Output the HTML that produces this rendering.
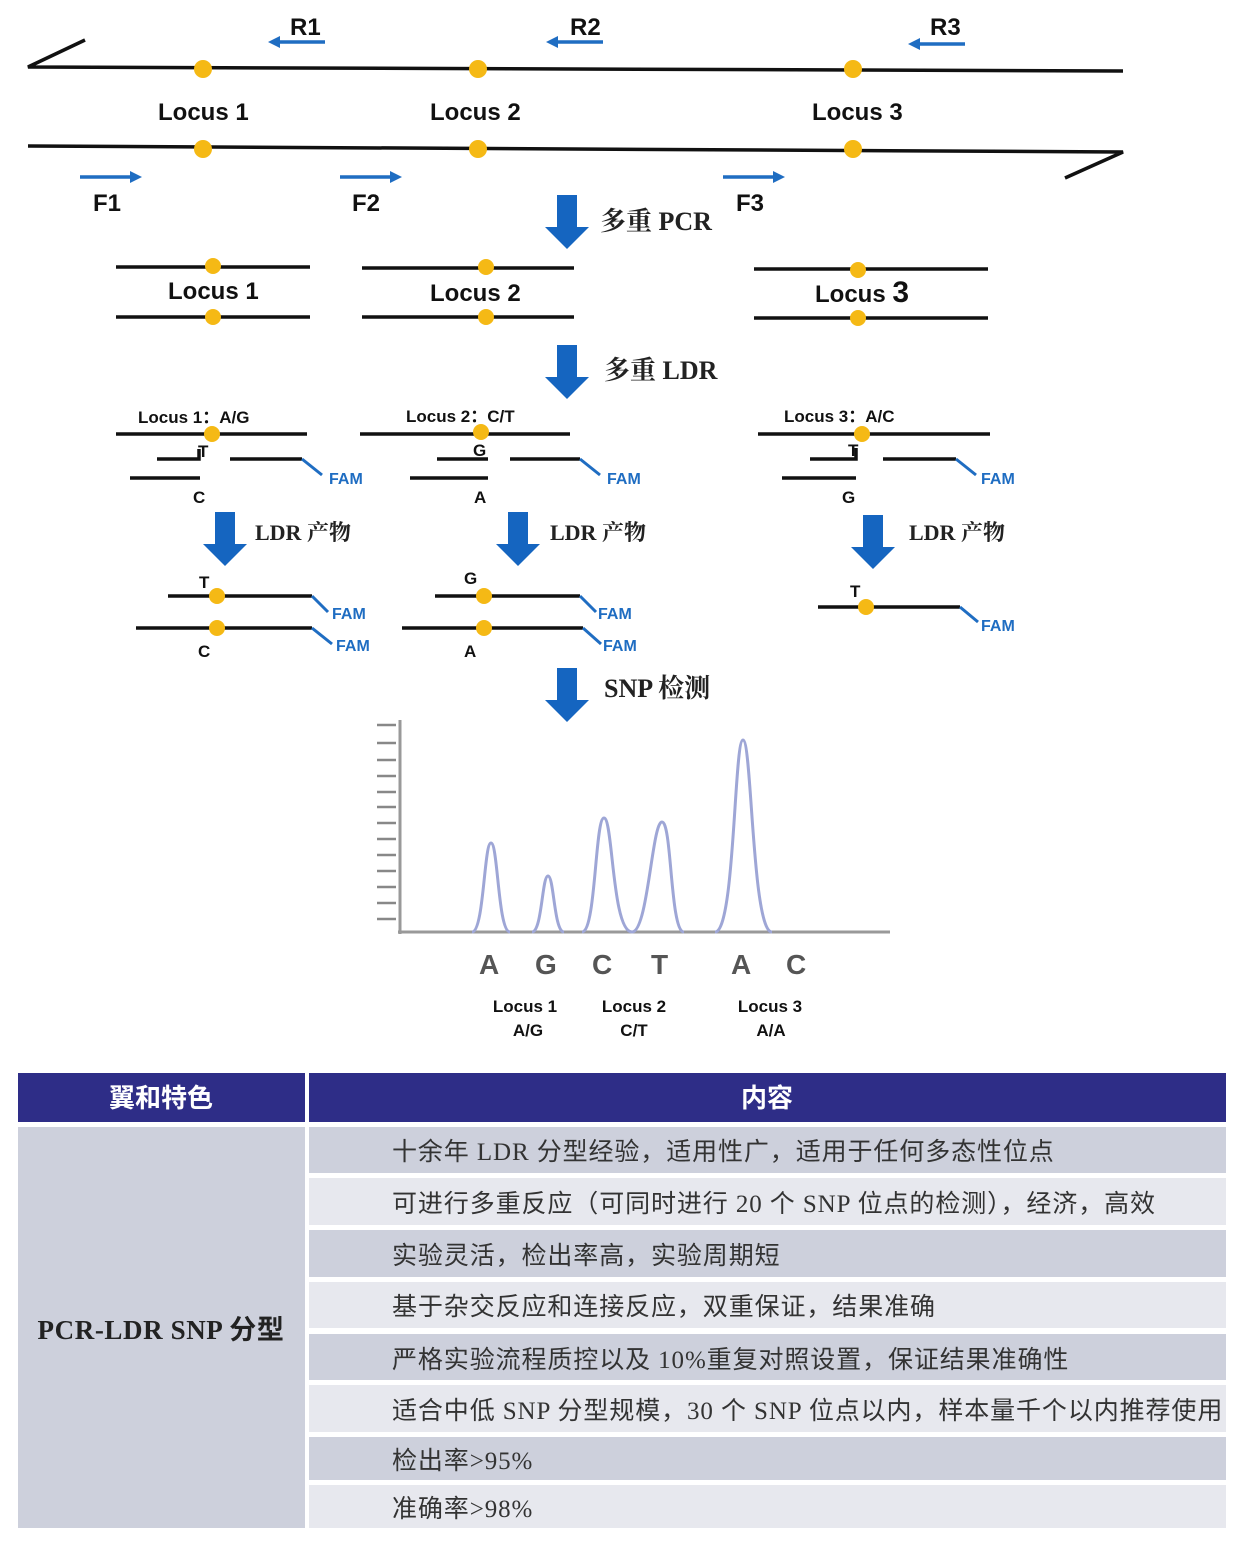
<!DOCTYPE html>
<html><head><meta charset="utf-8"><style>
body{margin:0;background:#fff;width:1246px;height:1541px;overflow:hidden;position:relative;font-family:"Liberation Sans","Noto Sans CJK SC",sans-serif}
svg{position:absolute;left:0;top:0}
.t{position:absolute;font-family:"Liberation Serif","Noto Sans CJK SC",serif;font-size:25px;letter-spacing:0.9px;color:#333;white-space:nowrap}
</style></head><body>
<svg width="1246" height="1541" viewBox="0 0 1246 1541">
<defs>
<marker id="ah" markerWidth="12" markerHeight="12" refX="8" refY="6" orient="auto" markerUnits="userSpaceOnUse"><path d="M0,0 L12,6 L0,12 z" fill="#1f6dc2"/></marker>
<g id="bigarr"><path d="M-10,0 H10 V32 H22 L0,54 L-22,32 H-10 Z" fill="#1565c0"/></g>
</defs>
<g stroke="#111" stroke-width="3.5" fill="none">
<path d="M85,40 L28,67 L1123,71"/>
<path d="M28,146 L1123,152 L1065,178"/>
</g>
<g fill="#f5b915">
<circle cx="203" cy="69" r="9"/><circle cx="478" cy="69" r="9"/><circle cx="853" cy="69" r="9"/>
<circle cx="203" cy="149" r="9"/><circle cx="478" cy="149" r="9"/><circle cx="853" cy="149" r="9"/>
</g>
<g stroke="#1f6dc2" stroke-width="3.5" marker-end="url(#ah)">
<line x1="325" y1="42" x2="272" y2="42"/><line x1="603" y1="42" x2="550" y2="42"/><line x1="965" y1="44" x2="912" y2="44"/>
<line x1="80" y1="177" x2="138" y2="177"/><line x1="340" y1="177" x2="398" y2="177"/><line x1="723" y1="177" x2="781" y2="177"/>
</g>
<g font-family="Liberation Sans,sans-serif" font-weight="bold" font-size="24" fill="#111">
<text x="290" y="35">R1</text><text x="570" y="35">R2</text><text x="930" y="35">R3</text>
<text x="158" y="120">Locus 1</text><text x="430" y="120">Locus 2</text><text x="812" y="120">Locus 3</text>
<text x="93" y="211">F1</text><text x="352" y="211">F2</text><text x="736" y="211">F3</text>
<text x="168" y="299">Locus 1</text><text x="430" y="301">Locus 2</text><text x="815" y="302">Locus <tspan font-size="30">3</tspan></text>
</g>
<g stroke="#111" stroke-width="3.5">
<line x1="116" y1="267" x2="310" y2="267"/><line x1="116" y1="317" x2="310" y2="317"/>
<line x1="362" y1="268" x2="574" y2="268"/><line x1="362" y1="317" x2="574" y2="317"/>
<line x1="754" y1="269" x2="988" y2="269"/><line x1="754" y1="318" x2="988" y2="318"/>
</g>
<g fill="#f5b915">
<circle cx="213" cy="266" r="8"/><circle cx="213" cy="317" r="8"/>
<circle cx="486" cy="267" r="8"/><circle cx="486" cy="317" r="8"/>
<circle cx="858" cy="270" r="8"/><circle cx="858" cy="318" r="8"/>
</g>
<use href="#bigarr" x="567" y="195"/>
<use href="#bigarr" x="567" y="345"/>
<use href="#bigarr" x="225" y="512"/>
<use href="#bigarr" x="518" y="512"/>
<use href="#bigarr" x="873" y="515"/>
<use href="#bigarr" x="567" y="668"/>
<g font-family="Liberation Serif,Noto Serif CJK SC,serif" font-weight="bold" font-size="26" fill="#222">
<text x="600" y="230">多重 PCR</text>
<text x="604" y="379">多重 LDR</text>
<text x="604" y="697">SNP 检测</text>
</g>
<g font-family="Liberation Serif,Noto Serif CJK SC,serif" font-weight="bold" font-size="22" fill="#222">
<text x="255" y="540">LDR 产物</text><text x="550" y="540">LDR 产物</text><text x="909" y="540">LDR 产物</text>
</g>
<g stroke="#111" stroke-width="3.5" fill="none">
<line x1="116" y1="434" x2="307" y2="434"/>
<path d="M157,459 H199 V449"/><line x1="230" y1="459" x2="302" y2="459"/>
<line x1="130" y1="478" x2="200" y2="478"/>
<line x1="360" y1="434" x2="570" y2="434"/>
<line x1="437" y1="459" x2="488" y2="459"/><line x1="510" y1="459" x2="580" y2="459"/>
<line x1="410" y1="478" x2="488" y2="478"/>
<line x1="758" y1="434" x2="990" y2="434"/>
<path d="M810,459 H856 V448"/><line x1="883" y1="459" x2="956" y2="459"/>
<line x1="782" y1="478" x2="856" y2="478"/>
<line x1="168" y1="596" x2="312" y2="596"/><line x1="136" y1="628" x2="312" y2="628"/>
<line x1="435" y1="596" x2="580" y2="596"/><line x1="402" y1="628" x2="583" y2="628"/>
<line x1="818" y1="607" x2="960" y2="607"/>
</g>
<g stroke="#1f6dc2" stroke-width="3">
<line x1="302" y1="459" x2="322" y2="475"/><line x1="580" y1="459" x2="600" y2="475"/><line x1="956" y1="459" x2="976" y2="475"/>
<line x1="312" y1="596" x2="328" y2="612"/><line x1="312" y1="628" x2="332" y2="644"/>
<line x1="580" y1="596" x2="596" y2="612"/><line x1="583" y1="628" x2="601" y2="644"/>
<line x1="960" y1="607" x2="978" y2="622"/>
</g>
<g fill="#f5b915">
<circle cx="212" cy="434" r="8"/><circle cx="481" cy="432" r="8"/><circle cx="862" cy="434" r="8"/>
<circle cx="217" cy="596" r="8"/><circle cx="217" cy="628" r="8"/>
<circle cx="484" cy="596" r="8"/><circle cx="484" cy="628" r="8"/>
<circle cx="866" cy="607" r="8"/>
</g>
<g font-family="Liberation Sans,sans-serif" font-weight="bold" font-size="16" fill="#1f6dc2">
<text x="329" y="484">FAM</text><text x="607" y="484">FAM</text><text x="981" y="484">FAM</text>
<text x="332" y="619">FAM</text><text x="336" y="651">FAM</text>
<text x="598" y="619">FAM</text><text x="603" y="651">FAM</text>
<text x="981" y="631">FAM</text>
</g>
<g font-family="Liberation Sans,sans-serif" font-weight="bold" font-size="17" fill="#111">
<text x="138" y="423">Locus 1：A/G</text><text x="406" y="422">Locus 2：C/T</text><text x="784" y="422">Locus 3：A/C</text>
<text x="198" y="457">T</text><text x="473" y="456">G</text><text x="848" y="456">T</text>
<text x="193" y="503">C</text><text x="474" y="503">A</text><text x="842" y="503">G</text>
<text x="199" y="588">T</text><text x="464" y="584">G</text><text x="850" y="597">T</text>
<text x="198" y="657">C</text><text x="464" y="657">A</text>
</g>
<g stroke="#999" stroke-width="3">
<line x1="400" y1="720" x2="400" y2="934"/><line x1="398" y1="932" x2="890" y2="932"/>
</g>
<g stroke="#888" stroke-width="2.5">
<line x1="377" y1="725" x2="396" y2="725"/><line x1="377" y1="743" x2="396" y2="743"/><line x1="377" y1="760" x2="396" y2="760"/><line x1="377" y1="776" x2="396" y2="776"/><line x1="377" y1="792" x2="396" y2="792"/><line x1="377" y1="807" x2="396" y2="807"/><line x1="377" y1="823" x2="396" y2="823"/><line x1="377" y1="839" x2="396" y2="839"/><line x1="377" y1="855" x2="396" y2="855"/><line x1="377" y1="871" x2="396" y2="871"/><line x1="377" y1="887" x2="396" y2="887"/><line x1="377" y1="903" x2="396" y2="903"/><line x1="377" y1="919" x2="396" y2="919"/>
</g>
<g stroke="#9ea6d6" stroke-width="3" fill="none">
<path d="M472,932 C484,932 484,843 491,843 C498,843 498,932 510,932"/>
<path d="M532,932 C542,932 542,876 548,876 C554,876 554,932 564,932"/>
<path d="M582,932 C596,932 595,818 604,818 C613,818 612,932 632,932 C648,932 652,822 662,822 C672,822 670,932 684,932"/>
<path d="M715,932 C735,932 734,740 743,740 C752,740 752,932 772,932"/>
</g>
<g font-family="Liberation Sans,sans-serif" font-weight="bold" font-size="28" fill="#555">
<text x="479" y="974">A</text><text x="535" y="974">G</text><text x="592" y="974">C</text><text x="651" y="974">T</text><text x="731" y="974">A</text><text x="786" y="974">C</text>
</g>
<g font-family="Liberation Sans,sans-serif" font-weight="bold" font-size="17" fill="#111" text-anchor="middle">
<text x="525" y="1012">Locus 1</text><text x="528" y="1036">A/G</text>
<text x="634" y="1012">Locus 2</text><text x="634" y="1036">C/T</text>
<text x="770" y="1012">Locus 3</text><text x="771" y="1036">A/A</text>
</g>
<rect x="18" y="1073" width="287" height="49" fill="#2e2d87"/>
<rect x="309" y="1073" width="917" height="49" fill="#2e2d87"/>
<rect x="18" y="1127" width="287" height="401" fill="#cdd0dc"/>
<rect x="309" y="1127" width="917" height="46" fill="#cdd0dc"/>
<rect x="309" y="1178" width="917" height="47" fill="#e7e8ee"/>
<rect x="309" y="1230" width="917" height="47" fill="#cdd0dc"/>
<rect x="309" y="1282" width="917" height="46" fill="#e7e8ee"/>
<rect x="309" y="1334" width="917" height="46" fill="#cdd0dc"/>
<rect x="309" y="1385" width="917" height="47" fill="#e7e8ee"/>
<rect x="309" y="1437" width="917" height="43" fill="#cdd0dc"/>
<rect x="309" y="1485" width="917" height="43" fill="#e7e8ee"/>
<g font-family="Liberation Sans,Noto Sans CJK SC,sans-serif" font-weight="bold" font-size="26" fill="#fff" text-anchor="middle">
<text x="161" y="1107">翼和特色</text><text x="767" y="1107">内容</text>
</g>
<text x="161" y="1339" text-anchor="middle" font-family="Liberation Serif,Noto Sans CJK SC,serif" font-weight="bold" font-size="27" fill="#222" letter-spacing="0.6">PCR-LDR SNP 分型</text>
</svg>
<div class="t" style="left:392px;top:1132px">十余年 LDR 分型经验，适用性广，适用于任何多态性位点</div>
<div class="t" style="left:392px;top:1184px">可进行多重反应（可同时进行 20 个 SNP 位点的检测），经济，高效</div>
<div class="t" style="left:392px;top:1236px">实验灵活，检出率高，实验周期短</div>
<div class="t" style="left:392px;top:1287px">基于杂交反应和连接反应，双重保证，结果准确</div>
<div class="t" style="left:392px;top:1340px">严格实验流程质控以及 10%重复对照设置，保证结果准确性</div>
<div class="t" style="left:392px;top:1391px">适合中低 SNP 分型规模，30 个 SNP 位点以内，样本量千个以内推荐使用</div>
<div class="t" style="left:392px;top:1441px">检出率&gt;95%</div>
<div class="t" style="left:392px;top:1489px">准确率&gt;98%</div>
</body></html>
